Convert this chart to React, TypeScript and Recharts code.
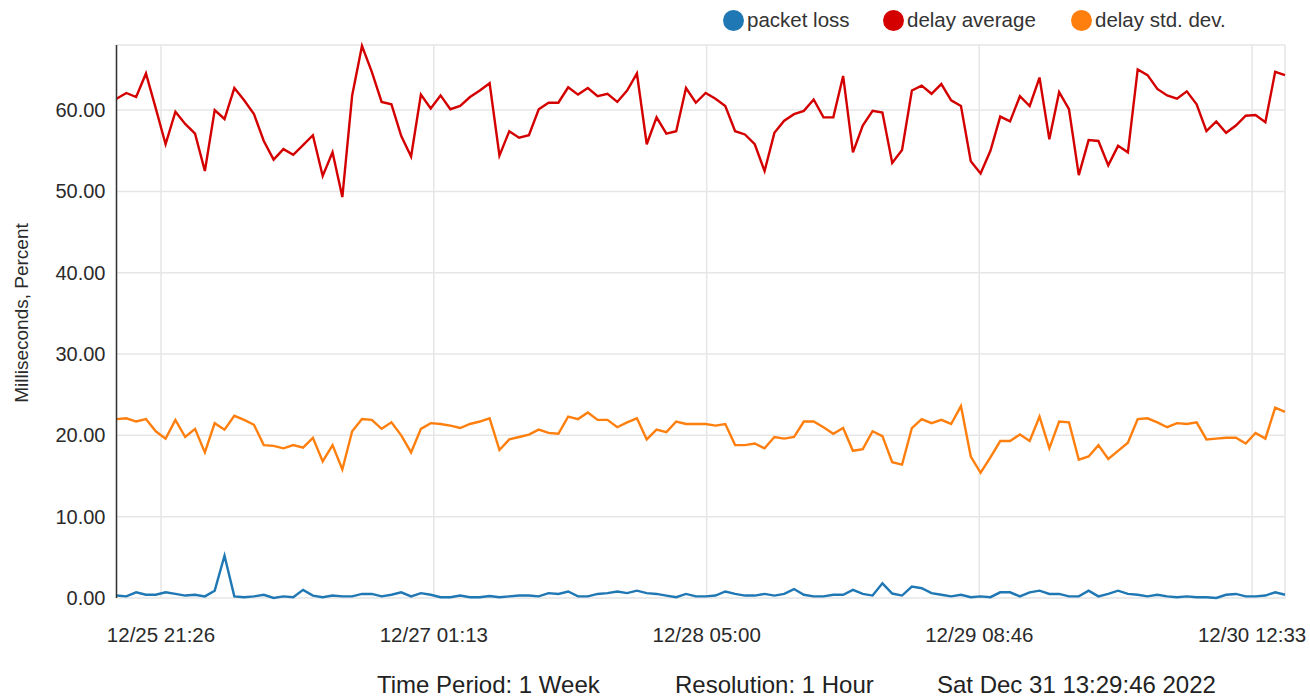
import React from 'react';
import { LineChart, Line, XAxis, YAxis, CartesianGrid } from 'recharts';

const startTime = '2022-12-25T16:54:00';
const tickTimes = ['2022-12-25T21:26:00', '2022-12-27T01:13:00', '2022-12-28T05:00:00', '2022-12-29T08:46:00', '2022-12-30T12:33:00'];
const yTicks = [0, 10, 20, 30, 40, 50, 60];

const packetLoss = [
  0.3, 0.2, 0.7, 0.4, 0.4, 0.7, 0.5, 0.3, 0.4, 0.2,
  0.9, 5.2, 0.2, 0.1, 0.2, 0.4, 0.0, 0.2, 0.1, 1.0,
  0.3, 0.1, 0.3, 0.2, 0.2, 0.5, 0.5, 0.2, 0.4, 0.7,
  0.2, 0.6, 0.4, 0.1, 0.1, 0.3, 0.1, 0.1, 0.25, 0.1,
  0.2, 0.3, 0.3, 0.2, 0.6, 0.5, 0.8, 0.2, 0.2, 0.5,
  0.6, 0.8, 0.6, 0.9, 0.6, 0.5, 0.3, 0.1, 0.5, 0.2,
  0.2, 0.3, 0.8, 0.5, 0.3, 0.3, 0.5, 0.3, 0.5, 1.1,
  0.4, 0.2, 0.2, 0.4, 0.4, 1.0, 0.5, 0.3, 1.8, 0.55,
  0.3, 1.4, 1.2, 0.6, 0.4, 0.2, 0.4, 0.1, 0.2, 0.1,
  0.7, 0.7, 0.2, 0.7, 0.9, 0.5, 0.5, 0.2, 0.2, 0.9,
  0.2, 0.5, 0.9, 0.5, 0.4, 0.2, 0.4, 0.2, 0.1, 0.2,
  0.1, 0.1, 0.0, 0.4, 0.5, 0.2, 0.2, 0.3, 0.7, 0.4,
];

const delayAverage = [
  61.4, 62.1, 61.6, 64.5, 60.2, 55.8, 59.8, 58.3, 57.1, 52.5,
  60.0, 58.9, 62.7, 61.2, 59.5, 56.2, 53.9, 55.2, 54.5, 55.7,
  56.9, 51.9, 54.8, 49.3, 61.8, 67.9, 64.7, 61.0, 60.7, 56.8,
  54.3, 61.9, 60.2, 61.8, 60.1, 60.5, 61.6, 62.4, 63.3, 54.4,
  57.4, 56.6, 56.9, 60.1, 60.9, 60.9, 62.8, 61.9, 62.7, 61.7,
  62.0, 61.0, 62.4, 64.5, 55.8, 59.1, 57.1, 57.4, 62.7, 60.9,
  62.1, 61.4, 60.5, 57.4, 57.0, 55.8, 52.5, 57.2, 58.7, 59.5,
  59.9, 61.3, 59.1, 59.1, 64.2, 54.8, 58.1, 59.9, 59.7, 53.5,
  55.1, 62.4, 63.0, 62.0, 63.2, 61.2, 60.5, 53.7, 52.2, 55.0,
  59.2, 58.6, 61.7, 60.5, 64.0, 56.4, 62.2, 60.1, 52.0, 56.3,
  56.2, 53.2, 55.6, 54.8, 65.0, 64.3, 62.6, 61.8, 61.4, 62.3,
  60.7, 57.4, 58.6, 57.2, 58.1, 59.3, 59.4, 58.5, 64.7, 64.3,
];

const delayStdDev = [
  22.0, 22.1, 21.7, 22.0, 20.5, 19.6, 21.9, 19.8, 20.8, 17.9,
  21.5, 20.7, 22.4, 21.9, 21.3, 18.8, 18.7, 18.4, 18.8, 18.5,
  19.7, 16.8, 18.8, 15.8, 20.5, 22.0, 21.9, 20.8, 21.6, 20.0,
  17.9, 20.8, 21.5, 21.4, 21.2, 20.9, 21.4, 21.7, 22.1, 18.2,
  19.5, 19.8, 20.1, 20.7, 20.3, 20.2, 22.3, 22.0, 22.8, 21.9,
  21.9, 21.0, 21.6, 22.1, 19.5, 20.7, 20.4, 21.7, 21.4, 21.4,
  21.4, 21.2, 21.4, 18.8, 18.8, 19.0, 18.4, 19.8, 19.6, 19.8,
  21.7, 21.7, 21.0, 20.2, 20.9, 18.1, 18.3, 20.5, 19.9, 16.7,
  16.4, 20.9, 22.0, 21.5, 21.9, 21.4, 23.6, 17.4, 15.4, 17.3,
  19.3, 19.3, 20.1, 19.3, 22.3, 18.4, 21.7, 21.6, 17.0, 17.4,
  18.8, 17.1, 18.1, 19.1, 22.0, 22.1, 21.6, 21.0, 21.5, 21.4,
  21.6, 19.5, 19.6, 19.7, 19.7, 19.0, 20.3, 19.6, 23.4, 22.9,
];

const HOUR = 3600 * 1000;
const t0 = new Date(startTime).getTime();
const data = delayAverage.map((v, i) => ({
  t: t0 + i * HOUR,
  loss: packetLoss[i],
  avg: v,
  std: delayStdDev[i],
}));
const xTicks = tickTimes.map((s) => new Date(s).getTime());

const pad = (n: number) => (n < 10 ? '0' + n : '' + n);
const fmtTime = (ms: number) => {
  const d = new Date(ms);
  return `${d.getMonth() + 1}/${d.getDate()} ${pad(d.getHours())}:${pad(d.getMinutes())}`;
};

const legendItems = [
  { label: 'packet loss', color: '#1f77b4', x: 723 },
  { label: 'delay average', color: '#d40000', x: 883 },
  { label: 'delay std. dev.', color: '#ff7f0e', x: 1071 },
];

const footer = [
  { text: 'Time Period: 1 Week', x: 377 },
  { text: 'Resolution: 1 Hour', x: 675 },
  { text: 'Sat Dec 31 13:29:46 2022', x: 937 },
];

const FONT = '"Liberation Sans", Arial, sans-serif';

export default function App() {
  return (
    <div style={{ position: 'absolute', left: 0, top: 0, width: 1310, height: 698, background: '#fff', fontFamily: FONT, overflow: 'hidden' }}>
      <LineChart width={1310} height={698} data={data} margin={{ top: 45, right: 25, bottom: 50, left: 16 }}>
        <CartesianGrid stroke="#e6e6e6" strokeWidth={1.5} />
        <XAxis
          dataKey="t"
          type="number"
          domain={[data[0].t, data[data.length - 1].t]}
          ticks={xTicks}
          tickFormatter={fmtTime}
          axisLine={false}
          tickLine={false}
          tickSize={0}
          tickMargin={29}
          height={50}
          interval={0}
          tick={{ fill: '#2a2a2a', fontSize: 20.5, fontFamily: FONT }}
        />
        <YAxis
          type="number"
          domain={[0, 68]}
          ticks={yTicks}
          tickFormatter={(v: number) => v.toFixed(2)}
          width={100.5}
          axisLine={{ stroke: '#333', strokeWidth: 1.5 }}
          tickLine={false}
          tickSize={0}
          tickMargin={11}
          interval={0}
          tick={{ fill: '#2a2a2a', fontSize: 20, fontFamily: FONT }}
        />
        <Line type="linear" dataKey="loss" stroke="#1f77b4" strokeWidth={2.4} dot={false} isAnimationActive={false} />
        <Line type="linear" dataKey="avg" stroke="#d40000" strokeWidth={2.4} dot={false} isAnimationActive={false} />
        <Line type="linear" dataKey="std" stroke="#ff7f0e" strokeWidth={2.4} dot={false} isAnimationActive={false} />
      </LineChart>

      {legendItems.map((it) => (
        <div key={it.label} style={{ position: 'absolute', left: it.x, top: 9, height: 22, display: 'flex', alignItems: 'center' }}>
          <span style={{ width: 21, height: 21, borderRadius: '50%', background: it.color, display: 'inline-block', marginRight: 3 }} />
          <span style={{ fontSize: 20.5, color: '#333', lineHeight: '22px' }}>{it.label}</span>
        </div>
      ))}

      <div
        style={{
          position: 'absolute',
          left: 22,
          top: 313,
          transform: 'translate(-50%, -50%) rotate(-90deg)',
          whiteSpace: 'nowrap',
          fontSize: 19,
          color: '#2a2a2a',
          lineHeight: '20px',
        }}
      >
        Milliseconds, Percent
      </div>

      {footer.map((f) => (
        <div key={f.text} style={{ position: 'absolute', left: f.x, top: 673, fontSize: 24, lineHeight: '24px', color: '#222', whiteSpace: 'nowrap' }}>
          {f.text}
        </div>
      ))}
    </div>
  );
}
